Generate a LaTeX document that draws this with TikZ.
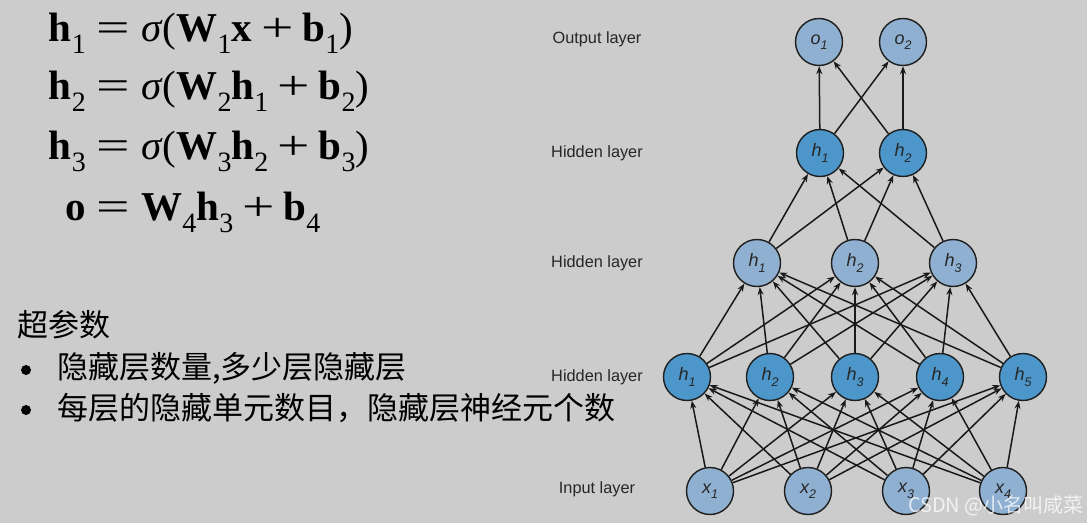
\documentclass[tikz,border=0pt]{standalone}
\usepackage{fontspec}
\setmainfont{Liberation Serif}
\setsansfont{Liberation Sans}
\newfontfamily\cjk{Noto Sans CJK SC}
\usetikzlibrary{arrows.meta}
\definecolor{bgc}{RGB}{204,204,204}
\definecolor{darkn}{RGB}{76,150,202}
\definecolor{lightn}{RGB}{143,176,208}
\definecolor{edgec}{RGB}{30,30,30}
\newcommand{\B}[1]{\textbf{#1}}
\newcommand{\Sb}[1]{\raisebox{-0.27em}{\fontsize{28}{28}\selectfont #1}}
\newcommand{\Eqs}{\hspace{0.25em}\scalebox{1.45}[1]{=}\hspace{0.28em}}
\newcommand{\Pls}{\hspace{0.22em}\scalebox{1.4}[1]{+}\hspace{0.22em}}
\newcommand{\Sig}{\textit{σ}}
\newcommand{\NL}[2]{{\sffamily\itshape #1\raisebox{-0.3em}{\fontsize{12.5}{12.5}\selectfont #2}}}
\begin{document}
\begin{tikzpicture}[x=1pt,y=1pt,
  neuron/.style={circle,draw=edgec,line width=1.4pt,minimum size=47pt,inner sep=0pt,
    font=\fontsize{18}{18}\selectfont,text=black!85},
  dk/.style={neuron,fill=darkn},
  lt/.style={neuron,fill=lightn},
  conn/.style={draw=black!90,line width=1.5pt,-{Stealth[length=8pt,width=6pt]}},
  layerlab/.style={font=\sffamily\fontsize{16.3}{16.3}\selectfont,text=black!85},
  eq/.style={inner sep=0pt,font=\fontsize{41}{41}\selectfont},
  cn/.style={inner sep=0pt,anchor=west,font=\cjk\fontsize{31}{31}\selectfont},
  bullet/.style={circle,fill=black,minimum size=10pt,inner sep=0pt}]
\fill[bgc] (0,0) rectangle (1087,523);
\useasboundingbox (0,0) rectangle (1087,523);

% equations
\node[eq,anchor=base east] (l1) at (86,481) {\B{h}\Sb{1}};
\node[eq,anchor=base west] (r1) at (86,481) {\Eqs\Sig(\B{W}\Sb{1}\B{x}\Pls\B{b}\Sb{1})};
\node[eq,anchor=base east] (l2) at (86,423) {\B{h}\Sb{2}};
\node[eq,anchor=base west] (r2) at (86,423) {\Eqs\Sig(\B{W}\Sb{2}\B{h}\Sb{1}\Pls\B{b}\Sb{2})};
\node[eq,anchor=base east] (l3) at (86,363) {\B{h}\Sb{3}};
\node[eq,anchor=base west] (r3) at (86,363) {\Eqs\Sig(\B{W}\Sb{3}\B{h}\Sb{2}\Pls\B{b}\Sb{3})};
\node[eq,anchor=base east] (l4) at (86,302) {\B{o}};
\node[eq,anchor=base west] (r4) at (86,302) {\Eqs\B{W}\Sb{4}\B{h}\Sb{3}\Pls\B{b}\Sb{4}};

% hyperparameters
\node[cn] (hp) at (17,198) {超参数};
\node[bullet] (bu1) at (26,153) {};
\node[cn] (t1) at (57,155) {隐藏层数量,多少层隐藏层};
\node[bullet] (bu2) at (26,113) {};
\node[cn] (t2) at (57,115) {每层的隐藏单元数目，隐藏层神经元个数};

% layer labels
\node[layerlab] (lo) at (597,484) {Output layer};
\node[layerlab] (lh3) at (597,370) {Hidden layer};
\node[layerlab] (lh2) at (597,260) {Hidden layer};
\node[layerlab] (lh1) at (597,146) {Hidden layer};
\node[layerlab] (li) at (597,34) {Input layer};

% neurons
\node[lt] (o1) at (819,481) {\NL{o}{1}};
\node[lt] (o2) at (903,481) {\NL{o}{2}};
\node[dk] (c1) at (820,370) {\NL{h}{1}};
\node[dk] (c2) at (903,370) {\NL{h}{2}};
\node[lt] (b1) at (757,260) {\NL{h}{1}};
\node[lt] (b2) at (855,260) {\NL{h}{2}};
\node[lt] (b3) at (953,260) {\NL{h}{3}};
\node[dk] (a1) at (687,146) {\NL{h}{1}};
\node[dk] (a2) at (770,146) {\NL{h}{2}};
\node[dk] (a3) at (855,146) {\NL{h}{3}};
\node[dk] (a4) at (940,146) {\NL{h}{4}};
\node[dk] (a5) at (1023,146) {\NL{h}{5}};
\node[lt] (x1) at (710,32) {\NL{x}{1}};
\node[lt] (x2) at (808,32) {\NL{x}{2}};
\node[lt] (x3) at (906,32) {\NL{x}{3}};
\node[lt] (x4) at (1003,32) {\NL{x}{4}};

% connections
\foreach \i in {1,...,4}{\foreach \j in {1,...,5}{\draw[conn] (x\i) -- (a\j);}}
\foreach \i in {1,...,5}{\foreach \j in {1,...,3}{\draw[conn] (a\i) -- (b\j);}}
\foreach \i in {1,...,3}{\foreach \j in {1,2}{\draw[conn] (b\i) -- (c\j);}}
\foreach \i in {1,2}{\foreach \j in {1,2}{\draw[conn] (c\i) -- (o\j);}}

% watermark
\node[inner sep=0pt,anchor=east,font=\cjk\fontsize{20}{20}\selectfont,text=white,text opacity=0.75] (wm) at (1084,17) {CSDN @小名叫咸菜};
\end{tikzpicture}
\end{document}
